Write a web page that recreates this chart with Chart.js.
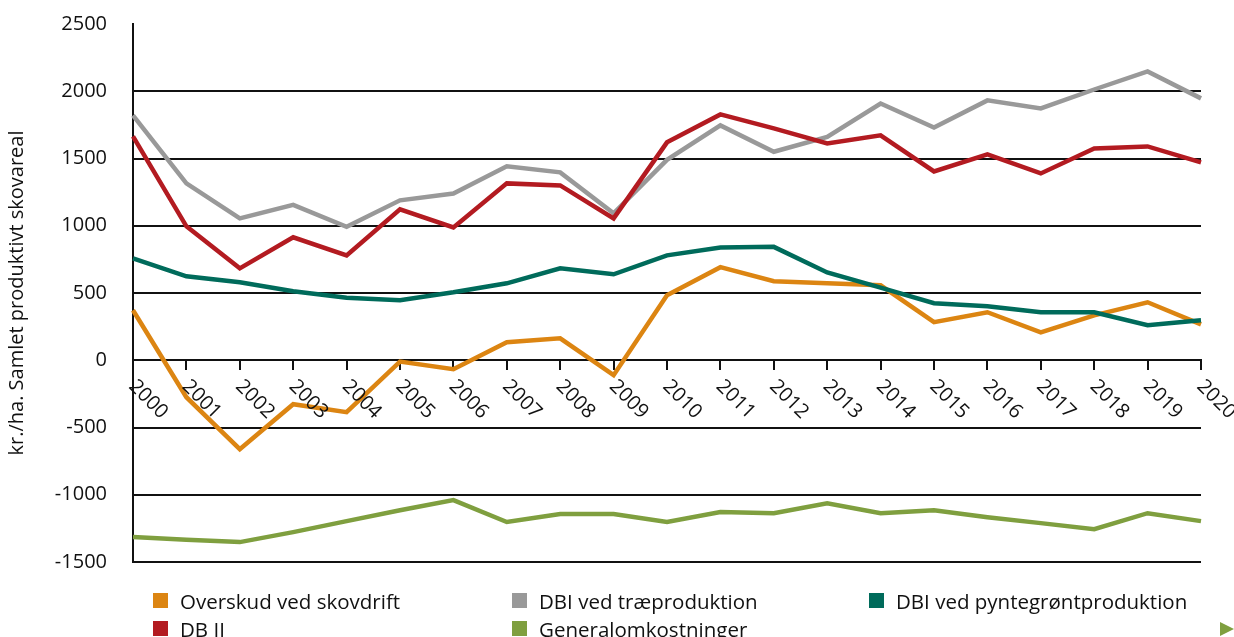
<!DOCTYPE html>
<html>
<head>
<meta charset="utf-8">
<script src="https://cdn.jsdelivr.net/npm/chart.js@4/dist/chart.umd.min.js"></script>
<style>
  html, body { margin: 0; padding: 0; background: #fff; overflow: hidden; }
  #wrap { position: relative; width: 1234px; height: 637px; overflow: hidden; font-family: "Open Sans", sans-serif; }
  #chart { position: absolute; left: 0; top: -14px; }
  .lg { position: absolute; font-size: 20.5px; color: #111; line-height: 22px; white-space: nowrap; }
  .lg i { position: absolute; width: 15px; height: 15px; left: 0; top: 3px; }
  .lg span { position: absolute; top: 0; left: 27px; }
  #arrow { position: absolute; left: 1220px; top: 622px; width: 0; height: 0;
    border-top: 7px solid transparent; border-bottom: 7px solid transparent; border-left: 14px solid #7f9f3f; }
</style>
</head>
<body>
<div id="wrap">
  <canvas id="chart" width="1234" height="651"></canvas>
  <div id="legend"></div>
  <div id="arrow"></div>
</div>
<script>
const years = ["2000","2001","2002","2003","2004","2005","2006","2007","2008","2009","2010",
  "2011","2012","2013","2014","2015","2016","2017","2018","2019","2020"];

const overskud = [372, -275, -661, -327, -386, -10, -67, 134, 163, -111, 483,
  692, 587, 572, 557, 283, 357, 208, 334, 431, 267];
const dbII = [1664, 996, 683, 914, 780, 1122, 988, 1315, 1300, 1055, 1620,
  1828, 1724, 1612, 1672, 1404, 1531, 1389, 1575, 1590, 1471];
const dbiTrae = [1820, 1315, 1055, 1155, 992, 1189, 1240, 1442, 1397, 1092, 1490,
  1746, 1550, 1660, 1909, 1731, 1932, 1872, 2013, 2147, 1947];
const dbiPynt = [758, 624, 580, 513, 465, 447, 505, 572, 683, 639, 780,
  839, 843, 653, 540, 424, 401, 357, 357, 260, 297];
const general = [-1315, -1335, -1352, -1278, -1196, -1115, -1040, -1203, -1144, -1144, -1203,
  -1129, -1137, -1063, -1137, -1115, -1167, -1211, -1256, -1137, -1196];

const yTicks = [2500, 2000, 1500, 1000, 500, 0, -500, -1000, -1500];

const series = [
  { label: "Overskud ved skovdrift", data: overskud, color: "#dc8512", col: 0, row: 0 },
  { label: "DBI ved træproduktion", data: dbiTrae, color: "#999999", col: 1, row: 0 },
  { label: "DBI ved pyntegrøntproduktion", data: dbiPynt, color: "#006b5b", col: 2, row: 0 },
  { label: "DB II", data: dbII, color: "#b31b21", col: 0, row: 1 },
  { label: "Generalomkostninger", data: general, color: "#7f9f3f", col: 1, row: 1 }
];

// legend in html, three columns
const colX = [153, 512, 869];
const legend = document.getElementById("legend");
series.forEach(function (s) {
  const d = document.createElement("div");
  d.className = "lg";
  d.style.left = colX[s.col] + "px";
  d.style.top = (590 + s.row * 28) + "px";
  d.innerHTML = '<i style="background:' + s.color + '"></i><span>' + s.label + '</span>';
  legend.appendChild(d);
});

// rotated year labels under the zero line
const yearLabels = {
  id: "yearLabels",
  afterDraw(chart) {
    const ctx = chart.ctx;
    const xs = chart.scales.x, ys = chart.scales.y;
    const y0 = ys.getPixelForValue(0);
    ctx.save();
    ctx.fillStyle = "#111";
    ctx.font = '20px "Open Sans"';
    ctx.textAlign = "left";
    ctx.textBaseline = "middle";
    years.forEach(function (lbl, i) {
      const x = xs.getPixelForTick(i);
      ctx.save();
      ctx.translate(x - 1, y0 + 23);
      ctx.rotate(Math.PI / 4);
      ctx.fillText(lbl, 0, 0);
      ctx.restore();
    });
    ctx.restore();
  }
};

const drawOrder = [3, 2, 0, 1, 4];

new Chart(document.getElementById("chart"), {
  type: "line",
  data: {
    labels: years,
    datasets: series.map(function (s, i) {
      return {
        label: s.label,
        data: s.data,
        borderColor: s.color,
        backgroundColor: s.color,
        borderWidth: 4.5,
        pointRadius: 0,
        tension: 0,
        fill: false,
        order: drawOrder[i]
      };
    })
  },
  options: {
    responsive: false,
    animation: false,
    layout: { padding: { left: 0, right: 33, top: 11, bottom: 75 } },
    plugins: { legend: { display: false }, tooltip: { enabled: false } },
    scales: {
      x: {
        type: "category",
        position: { y: 0 },
        offset: false,
        grid: { drawOnChartArea: false, drawTicks: true, tickLength: 9, color: "#111", lineWidth: 2 },
        border: { display: true, color: "#111", width: 2 },
        ticks: { display: false }
      },
      y: {
        min: -1500,
        max: 2500,
        afterFit: function (scale) { scale.width = 133; },
        afterBuildTicks: function (scale) {
          scale.ticks = yTicks.slice().reverse().map(function (v) { return { value: v }; });
        },
        grid: {
          drawTicks: false,
          lineWidth: 2,
          color: function (c) { return c.tick && c.tick.value === 2500 ? "rgba(0,0,0,0)" : "#111"; }
        },
        border: { display: true, color: "#111", width: 2 },
        ticks: {
          padding: 26,
          color: "#111",
          font: { family: "Open Sans", size: 20 },
          callback: function (v) { return String(v); }
        },
        title: {
          display: true,
          text: "kr./ha. Samlet produktivt skovareal",
          color: "#111",
          padding: { top: 5, bottom: 0 },
          font: { family: "Open Sans", size: 20 }
        }
      }
    }
  },
  plugins: [yearLabels]
});
</script>
</body>
</html>
